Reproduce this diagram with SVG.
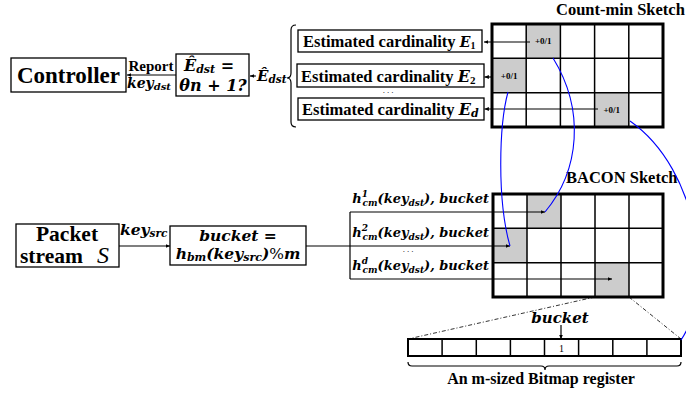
<svg xmlns="http://www.w3.org/2000/svg" width="686" height="399" viewBox="0 0 686 399" font-family="'Liberation Serif', 'DejaVu Serif', serif">
<defs>
<marker id="ah" viewBox="0 0 8 8" refX="7" refY="4" markerWidth="5" markerHeight="5" orient="auto" markerUnits="userSpaceOnUse">
<path d="M0,0.8 L7,4 L0,7.2 Z" fill="#000"/>
</marker>
<style>
.b{font-weight:bold}
.m{font-family:'DejaVu Serif',serif;font-weight:bold;font-style:italic}
.box{fill:#fff;stroke:#000;stroke-width:1.3}
.ln{fill:none;stroke:#000;stroke-width:1.2}
.arr{fill:none;stroke:#000;stroke-width:1.2;marker-end:url(#ah)}
.blue{fill:none;stroke:#0000ff;stroke-width:1.1}
.gray{fill:#cccccc}
.thin{fill:none;stroke:#000;stroke-width:1.5}
.thick{fill:none;stroke:#000;stroke-width:3}
.dd{fill:none;stroke:#000;stroke-width:0.8;stroke-dasharray:4,2,1,2}
.cell{font-weight:bold;font-size:9px}
.dots{font-size:9px;letter-spacing:2px}
</style>
</defs>

<g id="controller">
<rect class="box" x="11" y="58" width="115" height="34"/>
<text class="b" x="68.5" y="83" font-size="23" text-anchor="middle">Controller</text>
</g>

<g id="check">
<rect class="box" x="176" y="54" width="73" height="42"/>
<text class="m" x="209" y="71" font-size="16" text-anchor="middle">Ê<tspan font-size="11" dy="2">dst</tspan><tspan dy="-2"> =</tspan></text>
<text class="m" x="213" y="91" font-size="16" text-anchor="middle">θn + 1?</text>
</g>

<g id="edst-label">
<text class="m" x="257" y="81" font-size="15">Ê<tspan font-size="10.5" dy="2">dst</tspan></text>
<path class="ln" d="M296,25 Q291,25 291,30 L291,73 Q291,78 287,78 Q291,78 291,83 L291,122 Q291,127 296,127"/>
</g>

<g id="e1">
<rect class="box" x="298" y="30" width="184" height="22"/>
<text class="b" x="303" y="47" font-size="16.5">Estimated cardinality <tspan class="m" font-size="14">E</tspan><tspan font-size="10" dy="2">1</tspan></text>
</g>
<g id="e2">
<rect class="box" x="297" y="64" width="187" height="23"/>
<text class="b" x="301" y="82" font-size="16.5">Estimated cardinality <tspan class="m" font-size="16">E</tspan><tspan font-size="11" dy="2">2</tspan></text>
</g>
<g id="ed">
<rect class="box" x="298" y="98" width="186" height="22"/>
<text class="b" x="302" y="115" font-size="16.5">Estimated cardinality <tspan class="m" font-size="16">E</tspan><tspan class="m" font-size="11" dy="2">d</tspan></text>
</g>
<text class="dots" x="389" y="93" text-anchor="middle">...</text>

<g id="countmin">
<text class="b" x="556" y="15" font-size="16.5">Count-min Sketch</text>
<rect class="gray" x="526.2" y="24" width="34.2" height="34.3"/>
<rect class="gray" x="492" y="58.3" width="34.2" height="34.4"/>
<rect class="gray" x="594.6" y="92.7" width="34.2" height="34.3"/>
<path class="thin" d="M526.2,24V127M560.4,24V127M594.6,24V127M628.8,24V127M492,58.3H663M492,92.7H663"/>
<rect class="thick" x="492" y="24" width="171" height="103"/>
<text class="cell" x="543.3" y="44" text-anchor="middle">+0/1</text>
<text class="cell" x="509.1" y="78.5" text-anchor="middle">+0/1</text>
<text class="cell" x="611.7" y="112.5" text-anchor="middle">+0/1</text>
</g>

<g id="packet">
<rect class="box" x="16" y="224" width="103" height="43"/>
<text class="b" x="67" y="241" font-size="21.5" text-anchor="middle">Packet</text>
<text class="b" x="20" y="262.5" font-size="21.5">stream</text>
<text x="97" y="262.5" font-size="24" font-style="italic">S</text>
</g>

<g id="bucket">
<rect class="box" x="170" y="226" width="136" height="39"/>
<text class="m" x="238" y="240.5" font-size="15.5" text-anchor="middle">bucket =</text>
<text class="m" x="238" y="259" font-size="15.5" text-anchor="middle">h<tspan font-size="11" dy="2">bm</tspan><tspan dy="-2">(key</tspan><tspan font-size="11" dy="2">src</tspan><tspan dy="-2">)</tspan><tspan font-weight="normal" font-style="normal">%</tspan>m</text>
</g>

<g id="hlabels">
<text class="m" x="489" y="203" font-size="13" text-anchor="end">h<tspan font-size="9" dy="-6">1</tspan><tspan font-size="9" dx="-5.5" dy="9">cm</tspan><tspan dy="-3">(key</tspan><tspan font-size="9" dy="3">dst</tspan><tspan dy="-3">), bucket</tspan></text>
<text class="m" x="489" y="237" font-size="13" text-anchor="end">h<tspan font-size="9" dy="-6">2</tspan><tspan font-size="9" dx="-5.5" dy="9">cm</tspan><tspan dy="-3">(key</tspan><tspan font-size="9" dy="3">dst</tspan><tspan dy="-3">), bucket</tspan></text>
<text class="dots" x="409" y="252" text-anchor="middle">...</text>
<text class="m" x="489" y="270" font-size="13" text-anchor="end">h<tspan font-size="9" dy="-6">d</tspan><tspan font-size="9" dx="-5.5" dy="9">cm</tspan><tspan dy="-3">(key</tspan><tspan font-size="9" dy="3">dst</tspan><tspan dy="-3">), bucket</tspan></text>
</g>

<g id="bacon">
<text class="b" x="566" y="183" font-size="16.5">BACON Sketch</text>
<rect class="gray" x="527" y="194" width="34" height="34.3"/>
<rect class="gray" x="493" y="228.3" width="34" height="34.4"/>
<rect class="gray" x="595" y="262.7" width="34" height="34.3"/>
<path class="thin" d="M527,194V297M561,194V297M595,194V297M629,194V297M493,228.3H663M493,262.7H663"/>
<rect class="thick" x="493" y="194" width="170" height="103"/>
</g>

<g id="bitmap">
<rect x="408" y="339" width="273" height="17" fill="#fff"/>
<path class="thin" stroke-width="1" d="M442.1,339V356M476.3,339V356M510.4,339V356M544.5,339V356M578.6,339V356M612.8,339V356M646.9,339V356"/>
<rect x="408" y="339" width="273" height="17" fill="none" stroke="#000" stroke-width="2"/>
<text x="561.5" y="352" font-size="10" text-anchor="middle">1</text>
<text class="m" x="560" y="323" font-size="15" text-anchor="middle">bucket</text>
<path class="ln" d="M408,362 Q408,366 412,366 L541,366 Q545,366 545,370 Q545,366 549,366 L677,366 Q681,366 681,362" stroke-width="1"/>
<text class="b" x="541" y="384" font-size="16" text-anchor="middle">An m-sized Bitmap register</text>
</g>

<g id="connectors">
<path class="arr" d="M176,75H127"/>
<text class="b" x="151" y="71" font-size="15" text-anchor="middle">Report</text>
<text class="m" x="127" y="88" font-size="14">key<tspan font-size="10" dy="2">dst</tspan></text>
<path class="arr" d="M256,76H250"/>
<path class="arr" d="M530,42H484"/>
<path class="arr" d="M493,77H484.5"/>
<path class="arr" d="M598,109H484.5"/>
<path class="arr" d="M119,246H170"/>
<text class="m" x="120" y="235" font-size="15.5">key<tspan font-size="10.5" dy="2">src</tspan></text>
<path class="arr" d="M306,246H510"/>
<path class="ln" d="M350,212V279"/>
<path class="arr" d="M350,212H545"/>
<path class="arr" d="M350,279H612"/>
<path class="arr" d="M561,325V339"/>
<path class="dd" d="M595,297L408,339M629,297L681,339"/>
<path class="blue" d="M553,58 C585,110 580,170 545,212"/>
<path class="blue" d="M508,92 C499,125 497,200 510,246"/>
<path class="blue" d="M630,121 C700,170 715,290 681,340"/>
</g>
</svg>
